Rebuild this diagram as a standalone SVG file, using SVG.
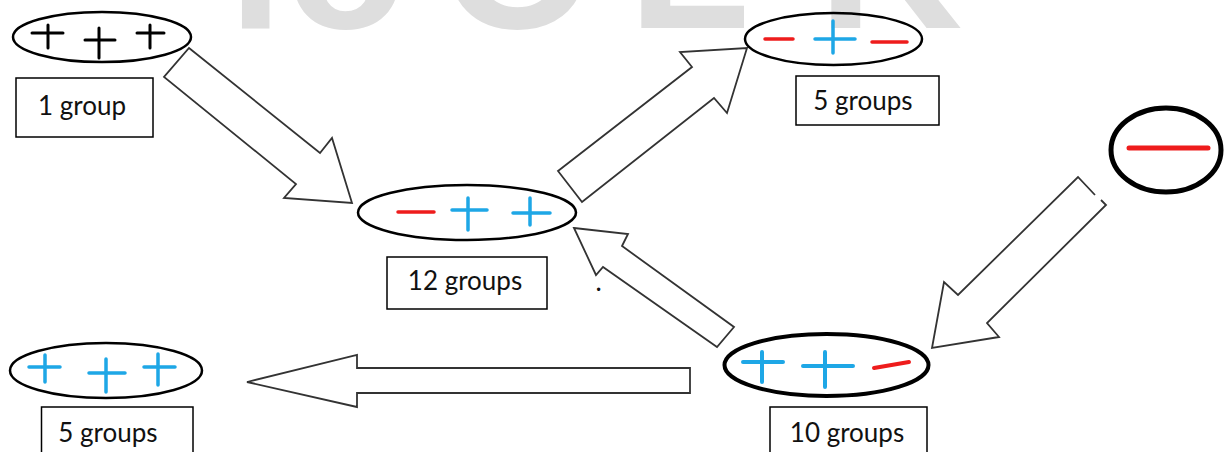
<svg xmlns="http://www.w3.org/2000/svg" width="1225" height="452" viewBox="0 0 1225 452">
<style>
.wm{font-family:"Liberation Sans",Arial,sans-serif;font-weight:bold;font-size:200px;fill:#dedede}
.ell{fill:none;stroke:#000;stroke-width:2.5}
.thick{stroke-width:4}
.box{fill:#fff;stroke:#000;stroke-width:1.5}
.lbl{font-family:Lato,"Open Sans",sans-serif;font-size:26px;fill:#111;text-anchor:middle}
.blk{stroke:#000;stroke-width:3;stroke-linecap:round;fill:none}
.blu{stroke:#1ea7e6;stroke-width:3.5;stroke-linecap:round;fill:none}
.red{stroke:#ee1c1c;stroke-width:3.5;stroke-linecap:round;fill:none}
.arr{fill:#fff;stroke:#333;stroke-width:1.8;stroke-linejoin:miter}
</style>
<text class="wm" y="28"><tspan x="228">l</tspan><tspan x="285">o</tspan><tspan x="440">O</tspan><tspan x="628">L</tspan><tspan x="818">K</tspan></text>
<g id="connectors">
<polygon class="arr" points="189,48 320,153 332,138 352,203 284,198 296,184 164,77"/>
<polygon class="arr" points="558,171 692,67 680,52 747,48 727,113 714,98 582,202"/>
<polygon class="arr" points="574,228 628,234 622,246 734,327 717,347 603,267 596,275"/>
<path class="arr" d="M1101,200 L1106,205 L987,323 L999,337 L932,348 L944,282 L958,295 L1078,177 L1095,195"/>
<polygon class="arr" points="247,382 357,355 357,368 690,368 690,393 357,393 357,407"/>
</g>
<g id="node-start">
<ellipse class="ell" cx="102" cy="37" rx="89" ry="25"/>
<path class="blk" d="M32,33 H63 M48,25 V48 M85,40 H115 M99,28 V58 M137,33 H164 M150,25 V48"/>
<rect class="box" x="16" y="78" width="137" height="59"/>
<text class="lbl" x="82" y="115">1 group</text>
</g>
<g id="node-center">
<ellipse class="ell" cx="467" cy="212.5" rx="109" ry="27.5"/>
<path class="red" d="M398,212 H434"/>
<path class="blu" d="M452,210 H487 M468,198 V230 M513,213 H550 M530,198 V225"/>
<rect class="box" x="387" y="257" width="160" height="52"/>
<text class="lbl" x="465" y="290">12 groups</text>
<text x="596" y="291" style="font-family:Lato,sans-serif;font-size:22px;font-weight:bold;fill:#111">.</text>
</g>
<g id="node-topright">
<ellipse class="ell" cx="833.5" cy="39" rx="88.5" ry="26"/>
<path class="red" d="M765,39 H793 M872,42 H907"/>
<path class="blu" d="M815,39 H855 M833,21 V53"/>
<rect class="box" x="796" y="76" width="143" height="49"/>
<text class="lbl" x="863" y="110">5 groups</text>
</g>
<g id="node-minus">
<ellipse class="ell" cx="1166" cy="150" rx="55" ry="42" style="stroke-width:5"/>
<path class="red" d="M1129,148 H1208" style="stroke-width:5"/>
</g>
<g id="node-bottomright">
<ellipse class="ell thick" cx="826.5" cy="365" rx="102" ry="31"/>
<path class="blu" d="M743,362 H783 M762,352 V382 M803,366 H853 M825,352 V387" style="stroke-width:4"/>
<path class="red" d="M874,368 L909,362" style="stroke-width:4"/>
<rect class="box" x="770" y="407" width="157" height="60"/>
<text class="lbl" x="847" y="442">10 groups</text>
</g>
<g id="node-bottomleft">
<ellipse class="ell" cx="106" cy="370.5" rx="96" ry="27.5"/>
<path class="blu" d="M29,367 H60 M45,355 V382 M89,373 H125 M106,359 V392 M144,367 H175 M158,354 V385"/>
<rect class="box" x="41.5" y="407" width="151.5" height="60"/>
<text class="lbl" x="108" y="442">5 groups</text>
</g>
</svg>
